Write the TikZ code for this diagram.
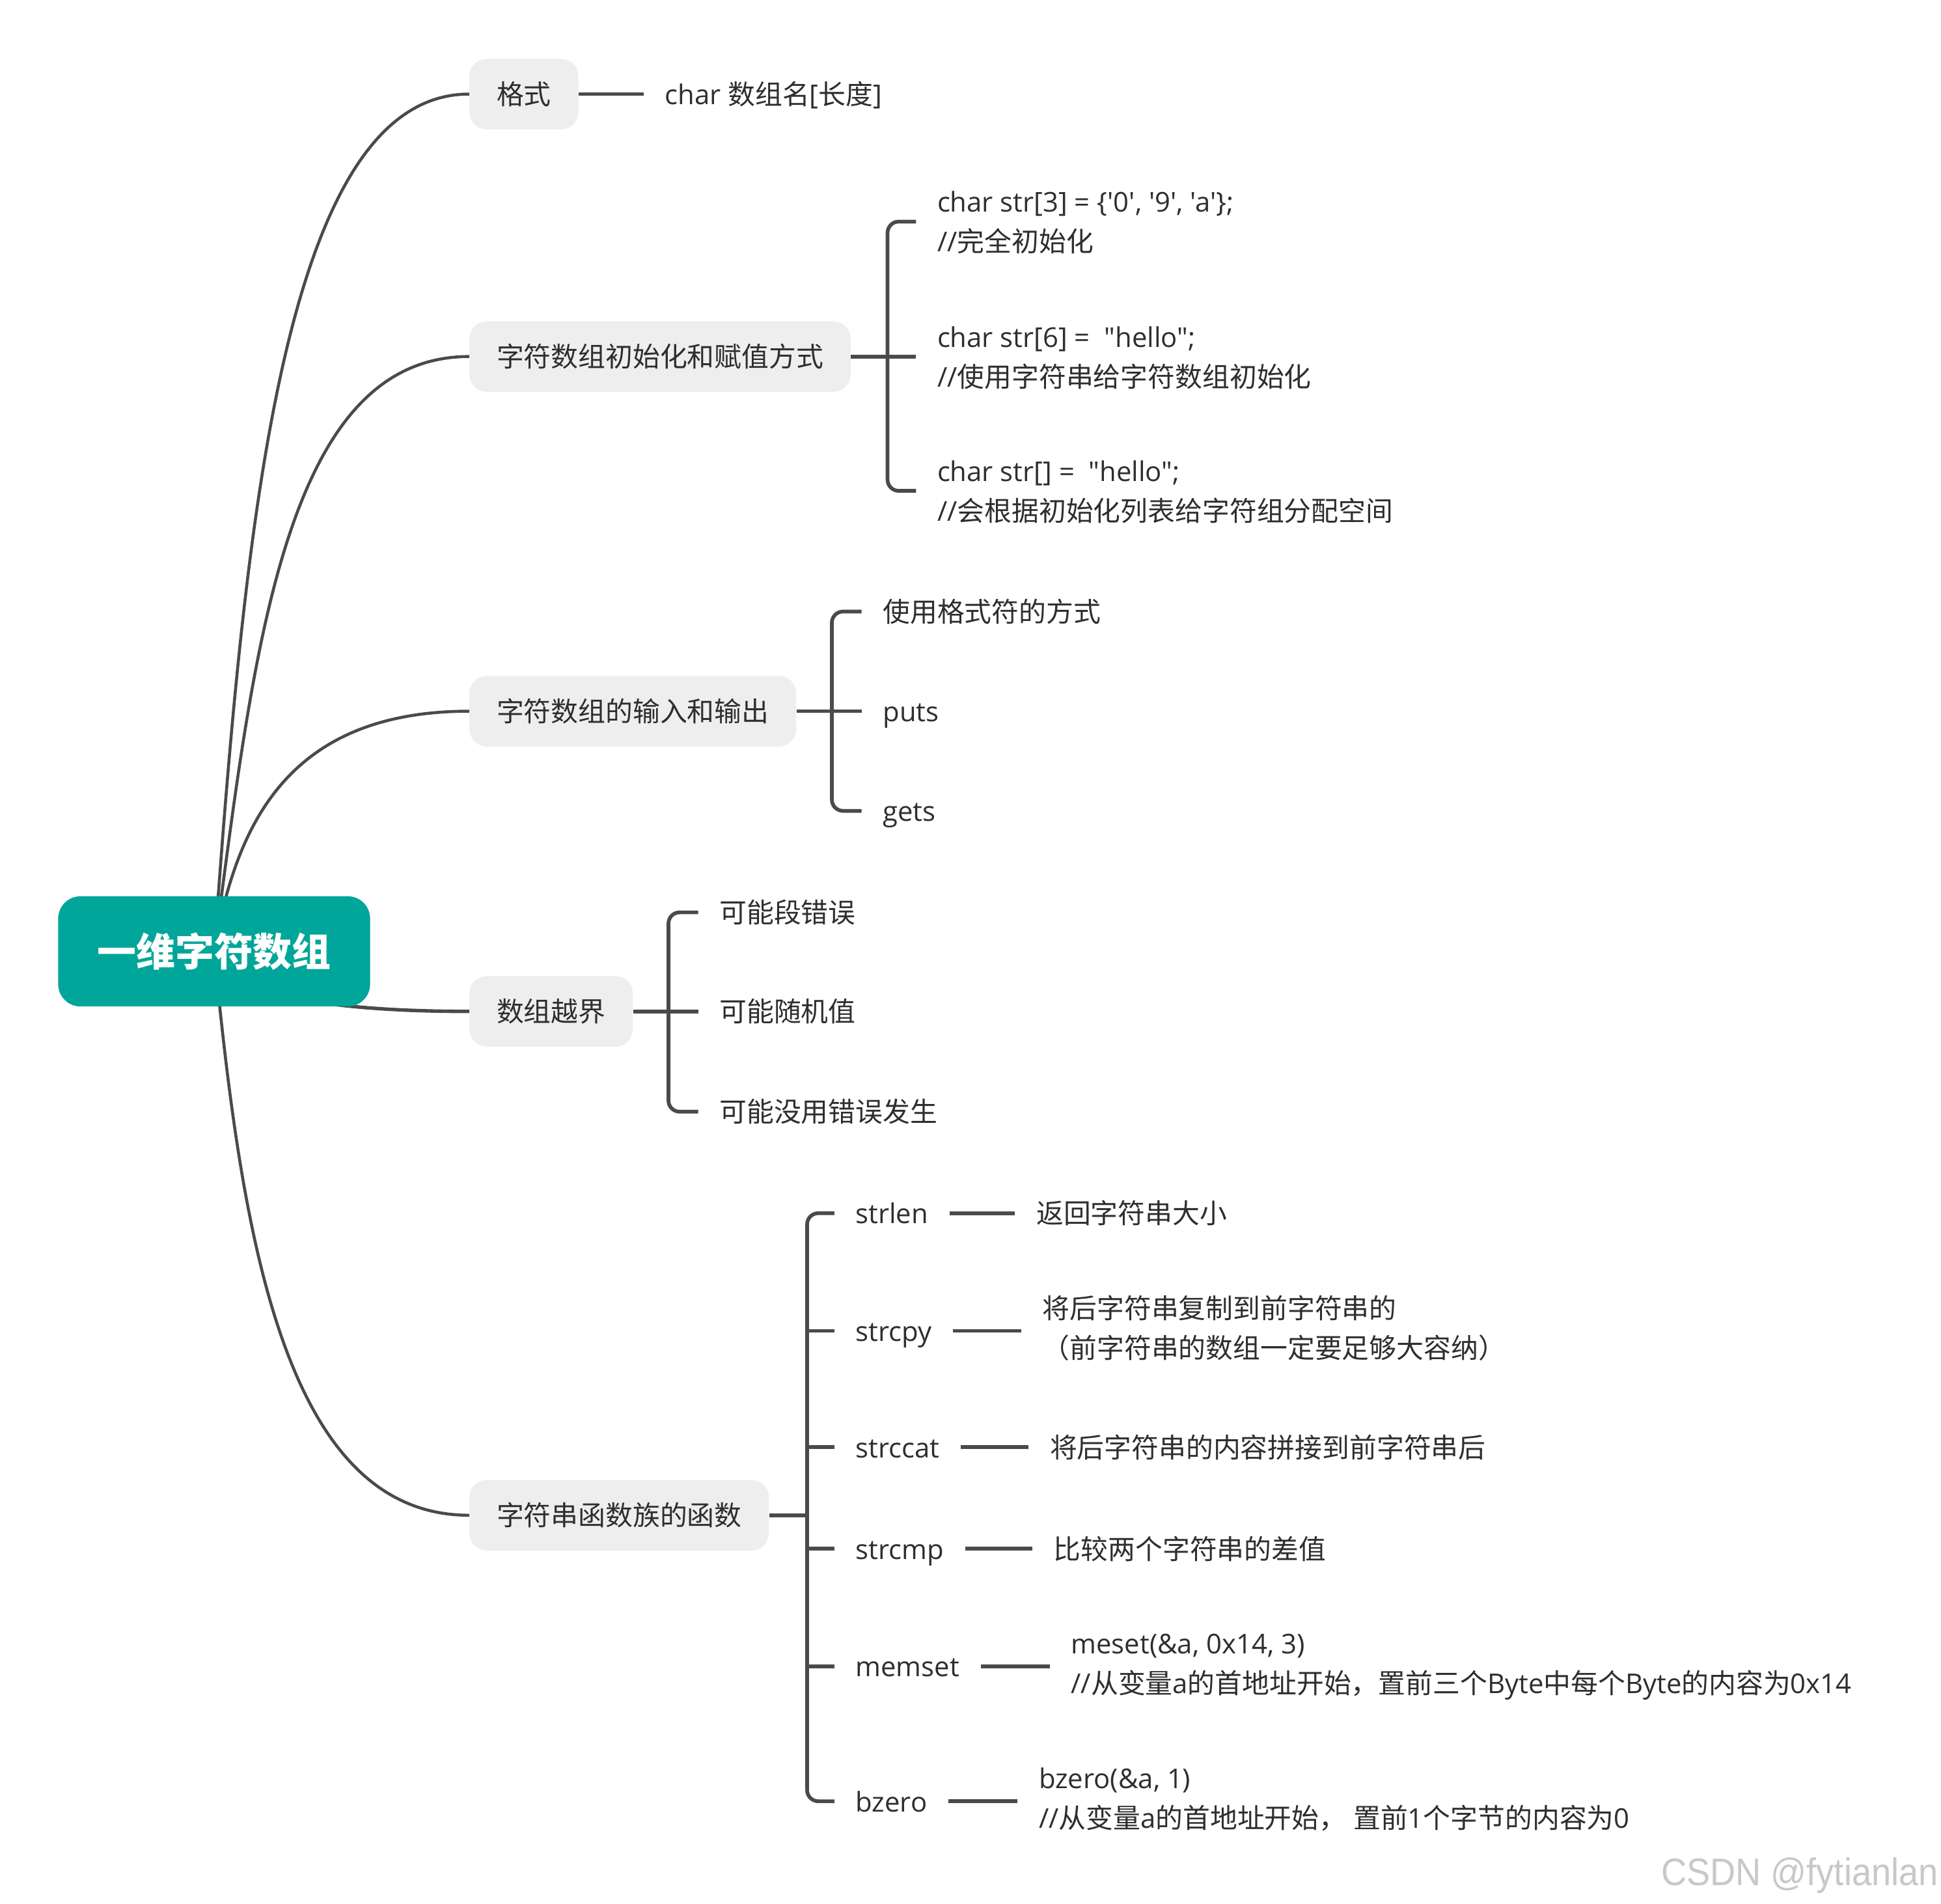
\documentclass[tikz,border=0pt]{standalone}
\usepackage{fontspec}
\usepackage{graphicx}
\usetikzlibrary{backgrounds,calc}
\setmainfont{Open Sans}[Ligatures=TeXOff]
\newfontfamily\cjkfont{Noto Sans CJK SC}[Ligatures=TeXOff]
\newfontfamily\wmfont{Liberation Sans}[Ligatures=TeXOff]
% automatic switch between Latin and CJK fonts
\XeTeXinterchartokenstate=1
\newXeTeXintercharclass\CJKcls
\newcount\cjkc
\cjkc="21 \loop\XeTeXcharclass\cjkc=0 \ifnum\cjkc<"7E \advance\cjkc 1 \repeat
\cjkc="3000 \loop\XeTeXcharclass\cjkc=\CJKcls\ifnum\cjkc<"303F \advance\cjkc 1 \repeat
\cjkc="4E00 \loop\XeTeXcharclass\cjkc=\CJKcls\ifnum\cjkc<"9FFF \advance\cjkc 1 \repeat
\cjkc="FF00 \loop\XeTeXcharclass\cjkc=\CJKcls\ifnum\cjkc<"FFEF \advance\cjkc 1 \repeat
\XeTeXinterchartoks 0 \CJKcls={\cjkfont}
\XeTeXinterchartoks 4095 \CJKcls={\cjkfont}
\XeTeXinterchartoks \CJKcls 0={\rmfamily}
\XeTeXinterchartoks \CJKcls 4095={\rmfamily}
\newcommand\stt{\rule[-0.345em]{0pt}{1.4545em}}
\definecolor{rootc}{HTML}{00A699}
\definecolor{l1fill}{HTML}{EEEEEE}
\definecolor{txtc}{HTML}{2E2E2E}
\definecolor{linec}{HTML}{4A4A4A}
\definecolor{wmc}{HTML}{C8C8C8}
\begin{document}
\begin{tikzpicture}[x=1pt,y=-1pt,
  every node/.style={inner sep=0pt},
  txt/.style={anchor=west, inner xsep=17pt, inner ysep=0pt, text=txtc, font=\fontsize{22}{32}\selectfont, align=left},
  topic/.style={anchor=west, fill=l1fill, rounded corners=14pt, inner xsep=22pt, inner ysep=0pt, minimum height=57pt, text=txtc, font=\fontsize{22}{32}\selectfont},
  rootbox/.style={fill=rootc, rounded corners=18pt, minimum width=252pt, minimum height=89pt, text=white, font=\fontsize{31.5}{40}\selectfont\bfseries},
  link/.style={draw=linec, line width=3pt},
  branch/.style={draw=linec, line width=2.4pt},
  brk/.style={link, rounded corners=9pt},
]
\useasboundingbox (0,0) rectangle (1568,1538);

% root and main topics
\node[rootbox] (root) at (173,768.5) {\stt 一维字符数组};
\node[topic] (t1) at (379,76) {\stt 格式};
\node[topic] (t2) at (379,288) {\stt 字符数组初始化和赋值方式};
\node[topic] (t3) at (379,574.5) {\stt 字符数组的输入和输出};
\node[topic] (t4) at (379,817) {\stt 数组越界};
\node[topic] (t5) at (379,1224) {\stt 字符串函数族的函数};

% background and branch curves
\begin{scope}[on background layer]
\fill[white] (0,0) rectangle (1568,1538);
\draw[branch] (root.center) .. controls (198,422) and (229,76) .. (t1.west);
\draw[branch] (root.center) .. controls (205,528) and (229,288) .. (t2.west);
\draw[branch] (root.center) .. controls (190,671) and (229,574.5) .. (t3.west);
\draw[branch, line width=2.8pt] (root.center) .. controls (173,793) and (229,817) .. (t4.west);
\draw[branch] (root.center) .. controls (195,996) and (229,1224) .. (t5.west);
\end{scope}

% 格式
\node[txt] (a1) at (520,76) {\stt char 数组名[长度]};
\draw[link] (t1.east) -- (a1.west);

% 初始化
\node[txt] (b1) at (740,179) {\stt char str[3] = \{'0', '9', 'a'\};\\\stt //完全初始化};
\node[txt] (b2) at (740,288) {\stt char str[6] = \ "hello";\\\stt //使用字符串给字符数组初始化};
\node[txt] (b3) at (740,396.5) {\stt char str[] = \ "hello";\\\stt //会根据初始化列表给字符组分配空间};
\coordinate (j2) at (717,288);
\draw[link] (t2.east) -- (j2);
\draw[brk] (b1.west) -| (j2) |- (b3.west);
\draw[link] (j2) -- (b2.west);

% 输入输出
\node[txt] (c1) at (696,494) {\stt 使用格式符的方式};
\node[txt] (c2) at (696,574.5) {\stt puts};
\node[txt] (c3) at (696,655) {\stt gets};
\coordinate (j3) at (672,574.5);
\draw[link] (t3.east) -- (j3);
\draw[brk] (c1.west) -| (j3) |- (c3.west);
\draw[link] (j3) -- (c2.west);

% 数组越界
\node[txt] (d1) at (564,737) {\stt 可能段错误};
\node[txt] (d2) at (564,817) {\stt 可能随机值};
\node[txt] (d3) at (564,898) {\stt 可能没用错误发生};
\coordinate (j4) at (540,817);
\draw[link] (t4.east) -- (j4);
\draw[brk] (d1.west) -| (j4) |- (d3.west);
\draw[link] (j4) -- (d2.west);

% 字符串函数
\node[txt] (f1) at (674,980) {\stt strlen};
\node[txt] (f2) at (674,1075) {\stt strcpy};
\node[txt] (f3) at (674,1169) {\stt strccat};
\node[txt] (f4) at (674,1251) {\stt strcmp};
\node[txt] (f5) at (674,1346) {\stt memset};
\node[txt] (f6) at (674,1455) {\stt bzero};
\coordinate (j5) at (652,1224);
\draw[link] (t5.east) -- (j5);
\draw[brk] (f1.west) -| (j5) |- (f6.west);
\foreach \f in {f2,f3,f4,f5} \draw[link] (\f.west) -- (\f.west -| j5);

\node[txt] (g1) at (820,980) {\stt 返回字符串大小};
\node[txt] (g2) at (825,1072.5) {\stt 将后字符串复制到前字符串的\\\stt （前字符串的数组一定要足够大容纳）};
\node[txt] (g3) at (831,1169) {\stt 将后字符串的内容拼接到前字符串后};
\node[txt] (g4) at (834,1251) {\stt 比较两个字符串的差值};
\node[txt] (g5) at (848,1343.5) {\stt meset(\&a, 0x14, 3)\\\stt //从变量a的首地址开始，置前三个Byte中每个Byte的内容为0x14};
\node[txt] (g6) at (822,1452.5) {\stt bzero(\&a, 1)\\\stt //从变量a的首地址开始， 置前1个字节的内容为0};
\draw[link] (f1.east) -- (g1.west);
\draw[link] (f2.east) -- (f2.east -| g2.west);
\draw[link] (f3.east) -- (g3.west);
\draw[link] (f4.east) -- (g4.west);
\draw[link] (f5.east) -- (f5.east -| g5.west);
\draw[link] (f6.east) -- (f6.east -| g6.west);

% watermark
\node[font=\wmfont\fontsize{31}{36}\selectfont, text=wmc, anchor=base east] (wm) at (1566,1523) {\scalebox{0.92}[1]{CSDN @fytianlan}};
\end{tikzpicture}
\end{document}
